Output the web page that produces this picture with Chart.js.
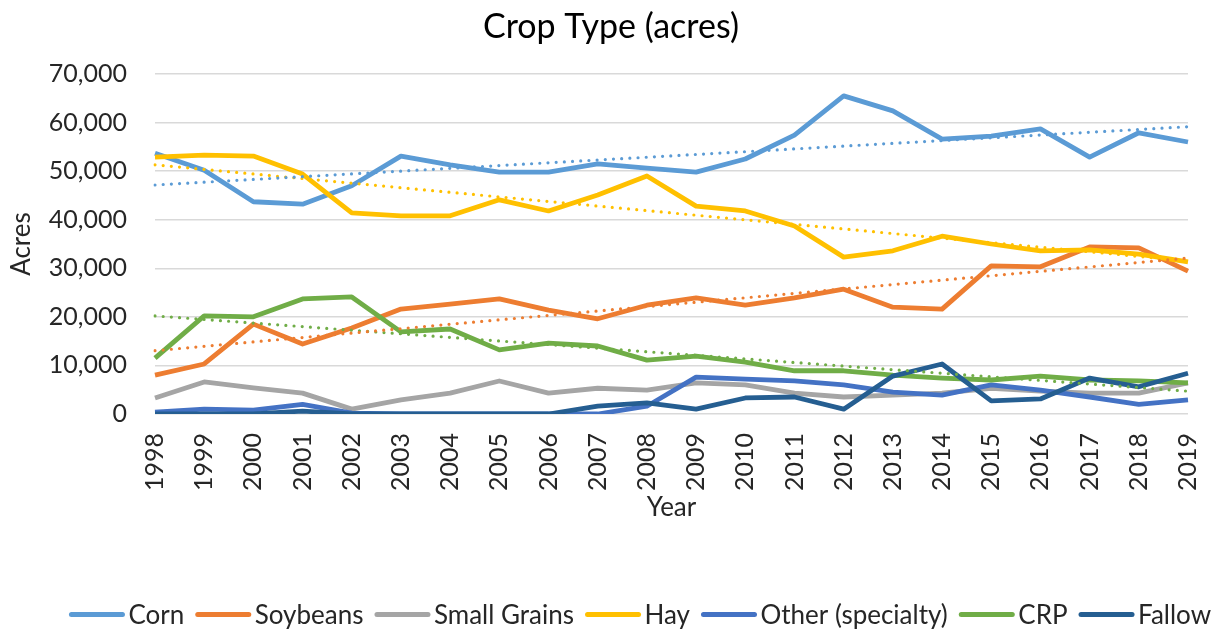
<!DOCTYPE html>
<html><head><meta charset="utf-8">
<script src="https://cdn.jsdelivr.net/npm/chart.js@4.4.1/dist/chart.umd.min.js"></script>
<style>html,body{margin:0;padding:0;background:#fff;overflow:hidden}</style>
</head><body>
<canvas id="c" width="1222" height="631"></canvas>
<script>
// ---- data ----
const years = ['1998','1999','2000','2001','2002','2003','2004','2005','2006','2007','2008','2009','2010','2011','2012','2013','2014','2015','2016','2017','2018','2019'];
const corn        = [53700,50200,43700,43200,47000,53100,51300,49800,49800,51500,50600,49800,52500,57400,65500,62400,56600,57200,58700,52900,57900,56000];
const soybeans    = [8000,10300,18500,14400,17700,21600,22600,23700,21400,19600,22400,23900,22400,23900,25700,22000,21600,30500,30300,34400,34200,29400];
const smallGrains = [3300,6600,5400,4300,1000,2900,4300,6800,4300,5300,4900,6400,6000,4300,3500,3900,4300,5300,4700,4300,4300,6400];
const hay         = [52900,53300,53100,49400,41400,40800,40800,44100,41800,45100,49000,42800,41800,38700,32300,33600,36600,35000,33600,33800,32900,31300];
const other       = [400,1000,800,2000,200,0,0,0,0,0,1600,7600,7200,6800,6000,4500,3900,6000,4900,3500,2000,2900];
const crp         = [11500,20200,20000,23700,24100,16900,17500,13200,14600,14000,11100,11900,10700,8900,8900,8000,7400,7000,7800,7000,6800,6400];
const fallow      = [0,0,0,600,0,0,0,0,0,1600,2300,1000,3300,3500,1000,7800,10300,2700,3100,7400,5600,8400];
// linear trendline end values (1998, 2019)
const cornTrend     = [47150, 59150];
const soybeansTrend = [13030, 32100];
const hayTrend      = [51300, 31500];
const crpTrend      = [20200, 4700];
const yTicks = [0,10000,20000,30000,40000,50000,60000,70000];

const seriesNames  = ['Corn','Soybeans','Small Grains','Hay','Other (specialty)','CRP','Fallow'];
const seriesData   = [corn, soybeans, smallGrains, hay, other, crp, fallow];
const seriesColors = ['#5B9BD5','#ED7D31','#A5A5A5','#FFC000','#4472C4','#70AD47','#255E91'];

const FONT = 'Lato';
const TXT = '#262626';
const AXIS_FONT = 25, AXIS_TITLE_FONT = 26, LEGEND_FONT = 26;
Chart.defaults.font.family = FONT;
Chart.defaults.color = TXT;

const datasets = seriesData.map((d,i)=>({
  label: seriesNames[i], data: d, borderColor: seriesColors[i], backgroundColor: seriesColors[i],
  borderWidth: 4.8, pointRadius: 0, pointHoverRadius: 0, tension: 0, fill: false,
  borderJoinStyle: 'round', order: 20 - i
}));
const trends = [[cornTrend,0],[soybeansTrend,1],[hayTrend,3],[crpTrend,5]];
trends.forEach(([t,i])=>{
  datasets.push({
    label: seriesNames[i]+' trend',
    data: [{x: years[0], y: t[0]}, {x: years[years.length-1], y: t[1]}],
    borderColor: seriesColors[i], borderWidth: 3.2, borderDash: [0, 8.2], borderCapStyle: 'round',
    pointRadius: 0, pointHoverRadius: 0, fill: false, order: 1
  });
});

// legend drawn on the canvas: long line sample, then the name
const bottomLegend = {
  id: 'bottomLegend',
  afterDraw(chart) {
    const ctx = chart.ctx;
    const lineLen = 56, gap = 3.5, itemGap = 11, centerX = 640, lineY = 614.5, textY = 623.5;
    ctx.save();
    ctx.font = LEGEND_FONT + 'px ' + FONT;
    const widths = seriesNames.map(n => ctx.measureText(n).width);
    const total = widths.reduce((a,w)=>a + lineLen + gap + w, 0) + itemGap * (seriesNames.length - 1);
    let x = centerX - total / 2;
    seriesNames.forEach((n,i)=>{
      ctx.strokeStyle = seriesColors[i]; ctx.lineWidth = 5; ctx.lineCap = 'round';
      ctx.beginPath(); ctx.moveTo(x + 2.5, lineY); ctx.lineTo(x + lineLen - 2.5, lineY); ctx.stroke();
      ctx.fillStyle = TXT; ctx.textBaseline = 'alphabetic'; ctx.textAlign = 'left';
      ctx.fillText(n, x + lineLen + gap, textY);
      x += lineLen + gap + widths[i] + itemGap;
    });
    ctx.restore();
  }
};

new Chart(document.getElementById('c'), {
  type: 'line',
  data: { labels: years, datasets },
  plugins: [bottomLegend],
  options: {
    responsive: false, animation: false,
    layout: { padding: { left: 0, right: 0, top: 0, bottom: 53 } },
    plugins: {
      tooltip: { enabled: false },
      legend: { display: false },
      title: { display: true, text: 'Crop Type (acres)', color: '#000',
        font: { size: 34, weight: 'normal', family: FONT }, padding: { top: 6.6, bottom: 26.6 } }
    },
    scales: {
      x: {
        type: 'category', offset: false,
        grid: { display: false, drawTicks: false }, border: { display: false },
        ticks: { minRotation: 90, maxRotation: 90, autoSkip: false, padding: 19, color: TXT, font: { size: AXIS_FONT } },
        title: { display: true, text: 'Year', color: TXT, font: { size: AXIS_TITLE_FONT }, padding: { top: 0, bottom: 55 } },
        afterFit: s => { s.height = 164; s.paddingLeft = 0; s.paddingRight = 34; }
      },
      y: {
        min: 0, max: 70000,
        afterBuildTicks: s => { s.ticks = yTicks.map(v=>({value: v})); },
        grid: { color: '#d9d9d9', lineWidth: 1.5, drawTicks: false }, border: { display: false },
        ticks: { padding: 28, color: TXT, font: { size: AXIS_FONT }, callback: v => v.toLocaleString('en-US') },
        title: { display: true, text: 'Acres', color: TXT, font: { size: AXIS_TITLE_FONT }, padding: { top: 6.4, bottom: 0 } },
        afterFit: s => { s.width = 155; }
      }
    }
  }
});
</script>
</body></html>
